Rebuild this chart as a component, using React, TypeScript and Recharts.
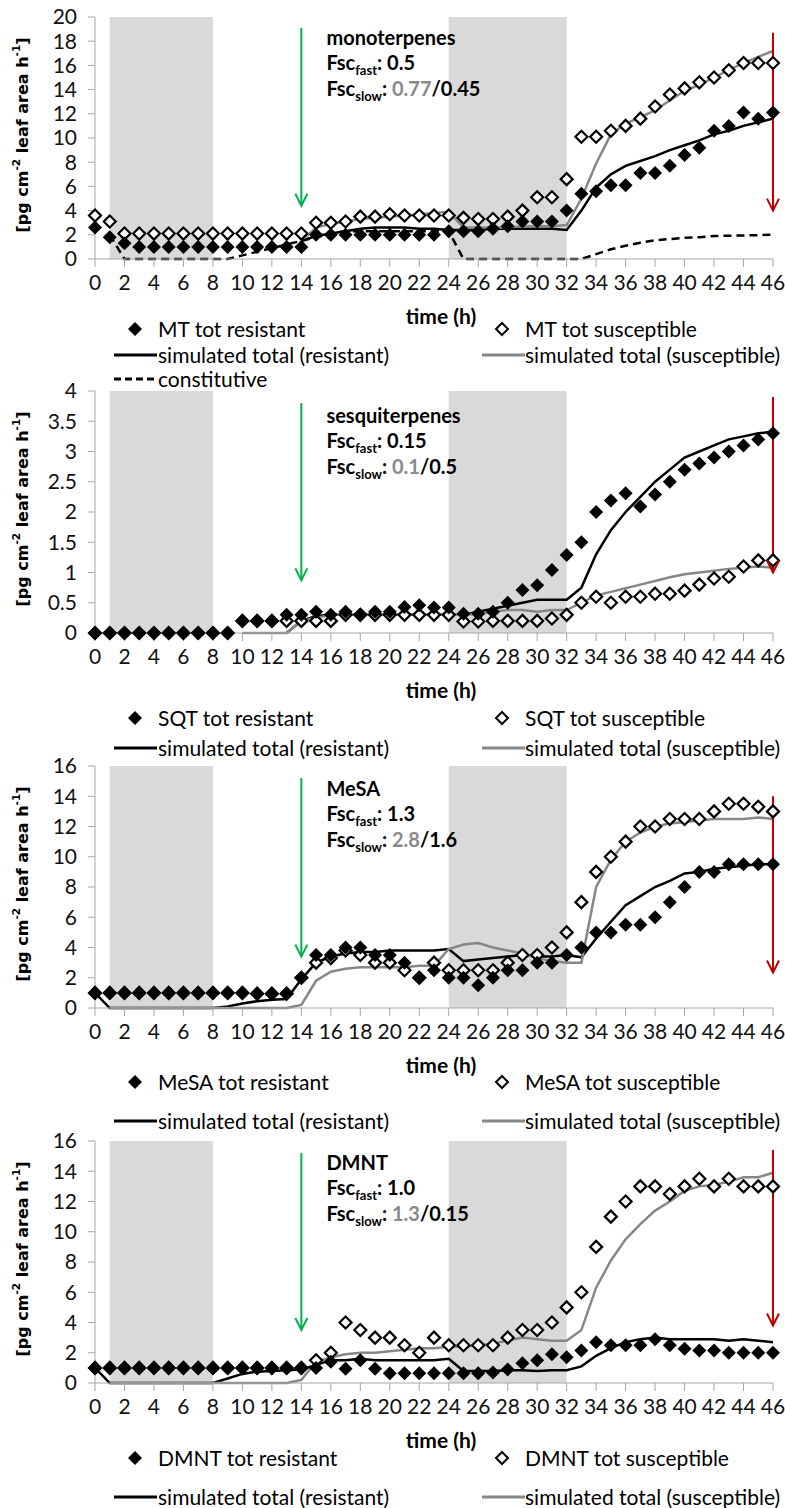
import React from "react";
import {
  ComposedChart,
  Line,
  Scatter,
  XAxis,
  YAxis,
  ReferenceArea,
  ReferenceLine,
  ReferenceDot,
} from "recharts";

// time axis (h)
const hours = [
  0, 1, 2, 3, 4, 5, 6, 7, 8, 9, 10, 11, 12, 13, 14, 15, 16, 17, 18, 19, 20, 21, 22, 23,
  24, 25, 26, 27, 28, 29, 30, 31, 32, 33, 34, 35, 36, 37, 38, 39, 40, 41, 42, 43, 44, 45, 46,
];
const xTicks = [0, 2, 4, 6, 8, 10, 12, 14, 16, 18, 20, 22, 24, 26, 28, 30, 32, 34, 36, 38, 40, 42, 44, 46];

// monoterpenes
const mtRes = [2.6, 1.8, 1.3, 1.0, 1.0, 1.0, 1.0, 1.0, 1.0, 1.0, 1.0, 1.0, 1.0, 1.0, 1.0, 2.0, 2.0, 2.0, 2.0, 2.0, 2.0, 2.0, 2.0, 2.0, 2.3, 2.3, 2.3, 2.5, 2.7, 3.1, 3.1, 3.1, 4.0, 5.4, 5.6, 6.1, 6.1, 7.1, 7.1, 7.7, 8.6, 9.2, 10.6, 11.0, 12.1, 11.6, 12.1];
const mtSus = [3.6, 3.1, 2.1, 2.1, 2.1, 2.1, 2.1, 2.1, 2.1, 2.1, 2.1, 2.1, 2.1, 2.1, 2.1, 3.0, 3.0, 3.1, 3.5, 3.5, 3.7, 3.6, 3.6, 3.6, 3.6, 3.4, 3.3, 3.3, 3.5, 4.0, 5.1, 5.1, 6.6, 10.1, 10.1, 10.6, 11.0, 11.6, 12.6, 13.6, 14.1, 14.6, 15.0, 15.6, 16.2, 16.2, 16.2];
const mtSimRes = [null, null, null, null, null, null, null, null, null, null, null, null, null, null, 1.5, 1.9, 2.1, 2.3, 2.5, 2.6, 2.6, 2.6, 2.5, 2.5, 2.4, 2.4, 2.4, 2.5, 2.5, 2.5, 2.5, 2.5, 2.4, 4.0, 5.9, 7.0, 7.7, 8.1, 8.5, 9.0, 9.4, 9.8, 10.3, 10.6, 11.0, 11.3, 11.6];
const mtSimSus = [null, null, null, null, null, null, null, null, null, null, null, null, null, null, 1.5, 2.6, 2.9, 3.1, 3.3, 3.4, 3.5, 3.6, 3.7, 3.8, 3.9, 2.6, 2.6, 2.6, 2.6, 2.7, 2.7, 2.7, 2.8, 5.0, 7.9, 10.3, 11.2, 11.7, 12.3, 13.1, 13.9, 14.4, 15.0, 15.6, 16.2, 16.7, 17.2];
const mtCon = [null, 2.0, 0, 0, 0, 0, 0, 0, 0, 0, 0.3, 0.6, 0.9, 1.2, 1.5, 1.8, 2.1, 2.3, 2.3, 2.3, 2.3, 2.3, 2.3, 2.3, 2.3, 0, 0, 0, 0, 0, 0, 0, 0, 0, 0.4, 0.8, 1.1, 1.35, 1.55, 1.65, 1.75, 1.8, 1.9, 1.92, 1.95, 1.97, 2.0];

// sesquiterpenes
const sqtRes = [0, 0, 0, 0, 0, 0, 0, 0, 0, 0, 0.2, 0.2, 0.2, 0.3, 0.3, 0.35, 0.3, 0.35, 0.3, 0.35, 0.35, 0.43, 0.46, 0.42, 0.42, 0.32, 0.32, 0.35, 0.5, 0.71, 0.79, 1.04, 1.29, 1.5, 2.0, 2.19, 2.31, 2.09, 2.29, 2.5, 2.7, 2.8, 2.9, 3.0, 3.1, 3.2, 3.3];
const sqtSus = [0, 0, 0, 0, 0, 0, 0, 0, 0, 0, 0.2, 0.2, 0.2, 0.2, 0.2, 0.2, 0.2, 0.3, 0.3, 0.3, 0.3, 0.3, 0.3, 0.3, 0.3, 0.19, 0.19, 0.2, 0.2, 0.2, 0.2, 0.24, 0.3, 0.5, 0.6, 0.5, 0.6, 0.6, 0.65, 0.65, 0.7, 0.8, 0.9, 0.93, 1.1, 1.2, 1.2];
const sqtSimRes = [null, null, null, null, null, null, null, null, null, null, null, null, null, 0, 0.2, 0.28, 0.3, 0.3, 0.3, 0.3, 0.3, 0.3, 0.3, 0.3, 0.3, 0.3, 0.35, 0.4, 0.45, 0.5, 0.55, 0.55, 0.55, 0.75, 1.3, 1.7, 2.0, 2.25, 2.5, 2.7, 2.9, 3.0, 3.1, 3.2, 3.25, 3.3, 3.33];
const sqtSimSus = [null, null, null, null, null, null, null, null, null, null, 0, 0, 0, 0, 0.2, 0.25, 0.3, 0.3, 0.3, 0.3, 0.3, 0.3, 0.3, 0.3, 0.3, 0.3, 0.32, 0.35, 0.38, 0.38, 0.35, 0.38, 0.38, 0.5, 0.62, 0.68, 0.74, 0.8, 0.86, 0.92, 0.97, 1.0, 1.03, 1.06, 1.08, 1.1, 1.08];

// MeSA
const mesaRes = [1.0, 1.0, 1.0, 1.0, 1.0, 1.0, 1.0, 1.0, 1.0, 1.0, 1.0, 0.95, 0.95, 0.95, 2.0, 3.5, 3.5, 4.0, 4.0, 3.5, 3.5, 3.0, 2.0, 2.5, 2.0, 2.0, 1.5, 2.0, 2.5, 2.5, 3.0, 3.0, 3.5, 4.0, 5.0, 5.0, 5.5, 5.5, 6.0, 7.0, 8.0, 9.0, 9.0, 9.5, 9.5, 9.5, 9.5];
const mesaSus = [1.0, 1.0, 1.0, 1.0, 1.0, 1.0, 1.0, 1.0, 1.0, 1.0, 1.0, 0.95, 0.95, 0.95, 2.0, 3.0, 3.3, 3.8, 3.5, 3.0, 3.0, 2.5, 2.0, 3.0, 2.5, 2.5, 2.5, 2.5, 3.0, 3.5, 3.5, 4.0, 5.0, 7.0, 9.0, 10.0, 11.0, 12.0, 12.0, 12.5, 12.5, 12.5, 13.0, 13.5, 13.5, 13.3, 13.0];
const mesaSimRes = [1.0, 0, 0, 0, 0, 0, 0, 0, 0, 0.1, 0.3, 0.45, 0.55, 0.6, 1.9, 3.0, 3.4, 3.6, 3.7, 3.7, 3.8, 3.8, 3.8, 3.8, 3.9, 3.1, 3.2, 3.3, 3.4, 3.5, 3.4, 3.4, 3.5, 3.35, 4.6, 5.7, 6.8, 7.4, 8.0, 8.4, 8.9, 9.0, 9.2, 9.3, 9.4, 9.5, 9.5];
const mesaSimSus = [null, 0, 0, 0, 0, 0, 0, 0, 0, 0, 0, 0, 0, 0, 0.2, 1.8, 2.4, 2.6, 2.7, 2.7, 2.7, 2.7, 2.8, 2.8, 3.9, 4.2, 4.3, 4.0, 3.8, 3.6, 3.3, 3.1, 3.0, 3.0, 8.0, 9.8, 11.0, 11.6, 12.0, 12.2, 12.3, 12.4, 12.5, 12.5, 12.5, 12.6, 12.5];

// DMNT
const dmntRes = [1.0, 1.0, 1.0, 1.0, 1.0, 1.0, 1.0, 1.0, 1.0, 1.0, 1.0, 1.0, 1.0, 1.0, 1.0, 1.0, 1.4, 0.95, 1.5, 0.95, 0.65, 0.65, 0.65, 0.65, 0.65, 0.65, 0.65, 0.7, 0.9, 1.3, 1.5, 1.9, 1.7, 2.15, 2.7, 2.5, 2.5, 2.5, 2.9, 2.5, 2.27, 2.15, 2.15, 2.0, 2.0, 2.0, 2.0];
const dmntSus = [1.0, 1.0, 1.0, 1.0, 1.0, 1.0, 1.0, 1.0, 1.0, 1.0, 1.0, 1.0, 1.0, 1.0, 1.0, 1.5, 2.0, 4.0, 3.5, 3.0, 3.0, 2.5, 2.0, 3.0, 2.5, 2.5, 2.5, 2.5, 3.0, 3.5, 3.5, 4.0, 5.0, 6.0, 9.0, 11.0, 12.0, 13.0, 13.0, 12.5, 13.0, 13.5, 13.0, 13.5, 13.0, 13.0, 13.0];
const dmntSimRes = [1.0, 0, 0, 0, 0, 0, 0, 0, 0, 0.3, 0.6, 0.75, 0.8, 0.85, 0.9, 1.2, 1.5, 1.5, 1.6, 1.5, 1.5, 1.5, 1.5, 1.5, 1.6, 0.8, 0.8, 0.8, 0.85, 0.85, 0.8, 0.85, 0.85, 1.1, 1.8, 2.3, 2.7, 2.9, 3.0, 2.9, 2.9, 2.9, 2.9, 2.8, 2.9, 2.8, 2.7];
const dmntSimSus = [null, 0, 0, 0, 0, 0, 0, 0, 0, 0, 0, 0, 0, 0, 0.2, 1.4, 1.7, 1.9, 2.0, 2.0, 2.1, 2.2, 2.3, 2.3, 2.4, 2.4, 2.5, 2.6, 2.8, 3.0, 2.9, 2.8, 2.8, 3.5, 6.3, 8.1, 9.5, 10.5, 11.4, 12.0, 12.7, 13.0, 13.1, 13.3, 13.6, 13.6, 13.9];

const FONT = "Lato, 'Liberation Sans', sans-serif";
const AXIS_GREY = "#a6a6a6";
const SIM_GREY = "#878787";
const PLOT_H = 242;
const TOP_M = 18;
const XAXIS_H = 66;
const BOTTOM_M = 12;

type PanelCfg = {
  top: number;
  name: string;
  title: string;
  fast: string;
  slowA: string;
  slowB: string;
  yMax: number;
  yTicks: number[];
  res: number[];
  sus: number[];
  simRes: (number | null)[];
  simSus: (number | null)[];
  con?: (number | null)[];
  green: [number, number];
  red: [number, number];
  annotDy: number;
  legendRows: number[];
};

const panels: PanelCfg[] = [
  {
    top: 17, name: "MT", title: "monoterpenes", fast: "0.5", slowA: "0.77", slowB: "/0.45",
    yMax: 20, yTicks: [0, 2, 4, 6, 8, 10, 12, 14, 16, 18, 20],
    res: mtRes, sus: mtSus, simRes: mtSimRes, simSus: mtSimSus, con: mtCon,
    green: [19.1, 4.4], red: [18.7, 4.0], annotDy: 0, legendRows: [329, 355, 379],
  },
  {
    top: 391, name: "SQT", title: "sesquiterpenes", fast: "0.15", slowA: "0.1", slowB: "/0.5",
    yMax: 4, yTicks: [0, 0.5, 1, 1.5, 2, 2.5, 3, 3.5, 4],
    res: sqtRes, sus: sqtSus, simRes: sqtSimRes, simSus: sqtSimSus,
    green: [3.8, 0.87], red: [3.9, 1.0], annotDy: 4, legendRows: [718, 748],
  },
  {
    top: 766, name: "MeSA", title: "MeSA", fast: "1.3", slowA: "2.8", slowB: "/1.6",
    yMax: 16, yTicks: [0, 2, 4, 6, 8, 10, 12, 14, 16],
    res: mesaRes, sus: mesaSus, simRes: mesaSimRes, simSus: mesaSimSus,
    green: [15.2, 3.4], red: [14.0, 2.35], annotDy: 2, legendRows: [1082, 1121],
  },
  {
    top: 1141, name: "DMNT", title: "DMNT", fast: "1.0", slowA: "1.3", slowB: "/0.15",
    yMax: 16, yTicks: [0, 2, 4, 6, 8, 10, 12, 14, 16],
    res: dmntRes, sus: dmntSus, simRes: dmntSimRes, simSus: dmntSimSus,
    green: [15.2, 3.5], red: [15.4, 3.8], annotDy: 1, legendRows: [1458, 1497],
  },
];

const FilledDiamond = (p: any) => {
  const { cx, cy } = p;
  if (cx == null || cy == null) return null;
  const s = 7;
  return <polygon points={`${cx},${cy - s} ${cx + s},${cy} ${cx},${cy + s} ${cx - s},${cy}`} fill="#000" />;
};

const OpenDiamond = (p: any) => {
  const { cx, cy } = p;
  if (cx == null || cy == null) return null;
  const s = 6;
  return (
    <polygon
      points={`${cx},${cy - s} ${cx + s},${cy} ${cx},${cy + s} ${cx - s},${cy}`}
      fill="#fff"
      stroke="#000"
      strokeWidth={2.2}
    />
  );
};

const arrowHead = (color: string) => (p: any) => {
  const { cx, cy } = p;
  if (cx == null || cy == null) return null;
  return (
    <path
      d={`M${cx - 6},${cy - 12} L${cx},${cy} L${cx + 6},${cy - 12}`}
      fill="none"
      stroke={color}
      strokeWidth={2}
    />
  );
};

const YTitle = (props: any) => {
  const vb = props.viewBox || {};
  const cy = vb.y + vb.height / 2 - 3;
  return (
    <text
      x={22}
      y={cy}
      transform={`rotate(-90, 22, ${cy})`}
      textAnchor="middle"
      dominantBaseline="central"
      fontFamily="'DejaVu Sans', sans-serif"
      fontWeight="bold"
      fontSize={16}
      fill="#000"
    >
      [pg cm<tspan dy={-6} fontSize={10.5}>-2</tspan>
      <tspan dy={6}> leaf area h</tspan>
      <tspan dy={-6} fontSize={10.5}>-1</tspan>
      <tspan dy={6}>]</tspan>
    </text>
  );
};

const annotation = (cfg: PanelCfg) => (p: any) => {
  const { cx, cy } = p;
  if (cx == null || cy == null) return null;
  const d = cfg.annotDy;
  return (
    <g fontFamily={FONT} fontWeight="bold" fontSize={20} fill="#000">
      <text x={cx} y={cy + 28 + d}>{cfg.title}</text>
      <text x={cx} y={cy + 53 + d}>
        Fsc<tspan fontSize={13} dy={5}>fast</tspan>
        <tspan dy={-5}>: {cfg.fast}</tspan>
      </text>
      <text x={cx} y={cy + 79 + d}>
        Fsc<tspan fontSize={13} dy={5}>slow</tspan>
        <tspan dy={-5}>: </tspan>
        <tspan fill="#8a8a8a">{cfg.slowA}</tspan>
        <tspan>{cfg.slowB}</tspan>
      </text>
    </g>
  );
};

function Panel({ cfg }: { cfg: PanelCfg }) {
  const rows = hours.map((h, i) => ({
    h,
    res: cfg.res[i],
    sus: cfg.sus[i],
    simRes: cfg.simRes[i],
    simSus: cfg.simSus[i],
    con: cfg.con ? cfg.con[i] : null,
  }));
  const tickStyle = { fill: "#111", fontSize: 21, fontFamily: FONT };
  return (
    <div style={{ position: "absolute", left: 0, top: cfg.top - TOP_M }}>
      <ComposedChart
        width={785}
        height={TOP_M + PLOT_H + XAXIS_H + BOTTOM_M}
        data={rows}
        margin={{ top: TOP_M, right: 12, bottom: BOTTOM_M, left: 0 }}
      >
        <XAxis
          dataKey="h"
          type="number"
          domain={[0, 46]}
          ticks={xTicks}
          interval={0}
          stroke={AXIS_GREY}
          tickSize={8}
          tickMargin={8}
          tick={tickStyle}
          height={XAXIS_H}
          label={{
            value: "time (h)",
            position: "insideBottom",
            offset: 1,
            dx: 7,
            style: { fontFamily: FONT, fontWeight: "bold", fontSize: 21, fill: "#000" },
          }}
        />
        <YAxis
          type="number"
          domain={[0, cfg.yMax]}
          ticks={cfg.yTicks}
          interval={0}
          width={95}
          stroke={AXIS_GREY}
          tickSize={7}
          tickMargin={11}
          tick={tickStyle}
          label={{ content: (props: any) => <YTitle {...props} /> }}
        />
        <ReferenceArea x1={1} x2={8} y1={0} y2={cfg.yMax} fill="#d9d9d9" fillOpacity={1} stroke="none" />
        <ReferenceArea x1={24} x2={32} y1={0} y2={cfg.yMax} fill="#d9d9d9" fillOpacity={1} stroke="none" />
        <Scatter dataKey="sus" shape={OpenDiamond} isAnimationActive={false} />
        <Scatter dataKey="res" shape={FilledDiamond} isAnimationActive={false} />
        <Line dataKey="simRes" type="linear" stroke="#000" strokeWidth={2.5} dot={false} activeDot={false} isAnimationActive={false} />
        <Line dataKey="simSus" type="linear" stroke={SIM_GREY} strokeWidth={2.5} dot={false} activeDot={false} isAnimationActive={false} />
        {cfg.con && (
          <Line dataKey="con" type="linear" stroke="#000" strokeWidth={2.5} strokeDasharray="8 5" dot={false} activeDot={false} isAnimationActive={false} />
        )}
        <ReferenceLine
          segment={[{ x: 14, y: cfg.green[0] }, { x: 14, y: cfg.green[1] }]}
          stroke="#00b050"
          strokeWidth={2}
        />
        <ReferenceDot x={14} y={cfg.green[1]} r={0} shape={arrowHead("#00b050")} />
        <ReferenceLine
          segment={[{ x: 46, y: cfg.red[0] }, { x: 46, y: cfg.red[1] }]}
          stroke="#c00000"
          strokeWidth={2}
        />
        <ReferenceDot x={46} y={cfg.red[1]} r={0} shape={arrowHead("#c00000")} />
        <ReferenceDot x={15.7} y={cfg.yMax} r={0} shape={annotation(cfg)} />
      </ComposedChart>
    </div>
  );
}

const legendText: React.CSSProperties = {
  position: "absolute",
  fontFamily: FONT,
  fontSize: 21,
  color: "#000",
  whiteSpace: "nowrap",
  lineHeight: "26px",
  transform: "translateY(-13px)",
};

function Icon({ kind, x, y }: { kind: string; x: number; y: number }) {
  if (kind === "filled" || kind === "open") {
    return (
      <svg width={16} height={16} style={{ position: "absolute", left: x - 8, top: y - 8 }}>
        <polygon
          points={kind === "filled" ? "8,1 15,8 8,15 1,8" : "8,2 14,8 8,14 2,8"}
          fill={kind === "filled" ? "#000" : "#fff"}
          stroke={kind === "filled" ? "none" : "#000"}
          strokeWidth={2}
        />
      </svg>
    );
  }
  const color = kind === "grey" ? SIM_GREY : "#000";
  return (
    <svg width={44} height={6} style={{ position: "absolute", left: x, top: y - 3 }}>
      <line x1={0} y1={3} x2={43} y2={3} stroke={color} strokeWidth={3} strokeDasharray={kind === "dash" ? "7 4" : undefined} />
    </svg>
  );
}

function PanelLegend({ cfg }: { cfg: PanelCfg }) {
  const [r1, r2, r3] = cfg.legendRows;
  return (
    <>
      <Icon kind="filled" x={135} y={r1} />
      <div style={{ ...legendText, left: 158, top: r1 }}>{cfg.name} tot resistant</div>
      <Icon kind="open" x={502} y={r1} />
      <div style={{ ...legendText, left: 525, top: r1 }}>{cfg.name} tot susceptible</div>
      <Icon kind="black" x={114} y={r2} />
      <div style={{ ...legendText, left: 158, top: r2 }}>simulated total (resistant)</div>
      <Icon kind="grey" x={482} y={r2} />
      <div style={{ ...legendText, left: 525, top: r2 }}>simulated total (susceptible)</div>
      {r3 !== undefined && (
        <>
          <Icon kind="dash" x={114} y={r3} />
          <div style={{ ...legendText, left: 158, top: r3 }}>constitutive</div>
        </>
      )}
    </>
  );
}

export default function App() {
  return (
    <div style={{ position: "absolute", left: 0, top: 0, width: 785, height: 1508, background: "#fff", overflow: "hidden" }}>
      {panels.map((cfg) => (
        <React.Fragment key={cfg.name}>
          <Panel cfg={cfg} />
          <PanelLegend cfg={cfg} />
        </React.Fragment>
      ))}
    </div>
  );
}
